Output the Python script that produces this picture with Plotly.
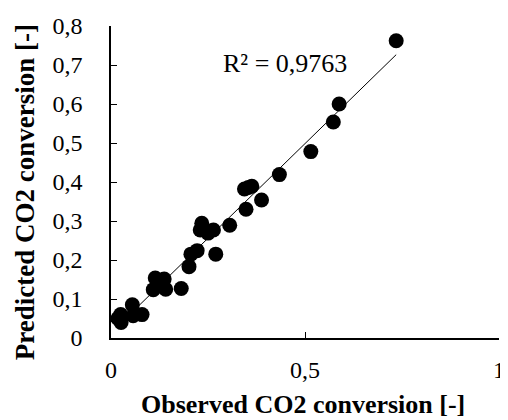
import numpy as np
import plotly.graph_objects as go

observed = [0.735, 0.588, 0.573, 0.515, 0.434, 0.344, 0.354, 0.363, 0.388, 0.348,
            0.306, 0.234, 0.230, 0.264, 0.250, 0.270, 0.222, 0.206, 0.201, 0.181,
            0.114, 0.137, 0.109, 0.141, 0.125, 0.055, 0.080, 0.057, 0.025, 0.026, 0.018]
predicted = [0.762, 0.600, 0.554, 0.478, 0.419, 0.382, 0.386, 0.389, 0.354, 0.330,
             0.289, 0.294, 0.277, 0.277, 0.269, 0.215, 0.224, 0.215, 0.183, 0.127,
             0.154, 0.151, 0.124, 0.125, 0.140, 0.085, 0.060, 0.057, 0.060, 0.040, 0.050]

x_tickvals = [0, 0.5, 1]
x_ticktext = ["0", "0,5", "1"]
y_tickvals = [0, 0.1, 0.2, 0.3, 0.4, 0.5, 0.6, 0.7, 0.8]
y_ticktext = ["0", "0,1", "0,2", "0,3", "0,4", "0,5", "0,6", "0,7", "0,8"]
r2_label = "R² = 0,9763"
x_title = "Observed CO2 conversion [-]"
y_title = "Predicted CO2 conversion [-]"

slope, intercept = np.polyfit(observed, predicted, 1)
xl = np.array([min(observed), max(observed)])
yl = slope * xl + intercept

FONT = "Liberation Serif"

fig = go.Figure()
fig.add_trace(go.Scatter(x=observed, y=predicted, mode="markers",
                         marker=dict(color="black", size=15), showlegend=False))
fig.add_trace(go.Scatter(x=xl, y=yl, mode="lines",
                         line=dict(color="black", width=1), showlegend=False))

fig.update_layout(
    width=500, height=412,
    margin=dict(l=103, r=3, t=18, b=82),
    plot_bgcolor="white", paper_bgcolor="white",
    font=dict(family=FONT, color="black", size=24),
    xaxis=dict(range=[0, 1], tickvals=x_tickvals, ticktext=x_ticktext,
               showgrid=False, zeroline=False, showline=True, linecolor="black",
               linewidth=1.5, ticks="inside", ticklen=6, tickcolor="black",
               ticklabelstandoff=9, ticklabeloverflow="allow",
               tickfont=dict(size=24, family=FONT)),
    yaxis=dict(range=[0, 0.8], tickvals=y_tickvals, ticktext=y_ticktext,
               showgrid=False, zeroline=False, showline=True, linecolor="black",
               linewidth=1.5, ticks="inside", ticklen=6, tickcolor="black",
               ticklabelstandoff=22, tickfont=dict(size=24, family=FONT)),
    annotations=[
        dict(text=r2_label, x=0.448, y=0.704, xref="x", yref="y", showarrow=False,
             font=dict(size=26, family=FONT)),
        dict(text="<b>" + x_title + "</b>", x=0.496, y=-0.213, xref="paper", yref="paper",
             showarrow=False, font=dict(size=26, family=FONT), xanchor="center", yanchor="middle"),
        dict(text="<b>" + y_title + "</b>", x=-0.223, y=0.469, xref="paper", yref="paper",
             showarrow=False, textangle=-90, font=dict(size=27, family=FONT),
             xanchor="center", yanchor="middle"),
    ],
)

fig.write_html("out.html")
